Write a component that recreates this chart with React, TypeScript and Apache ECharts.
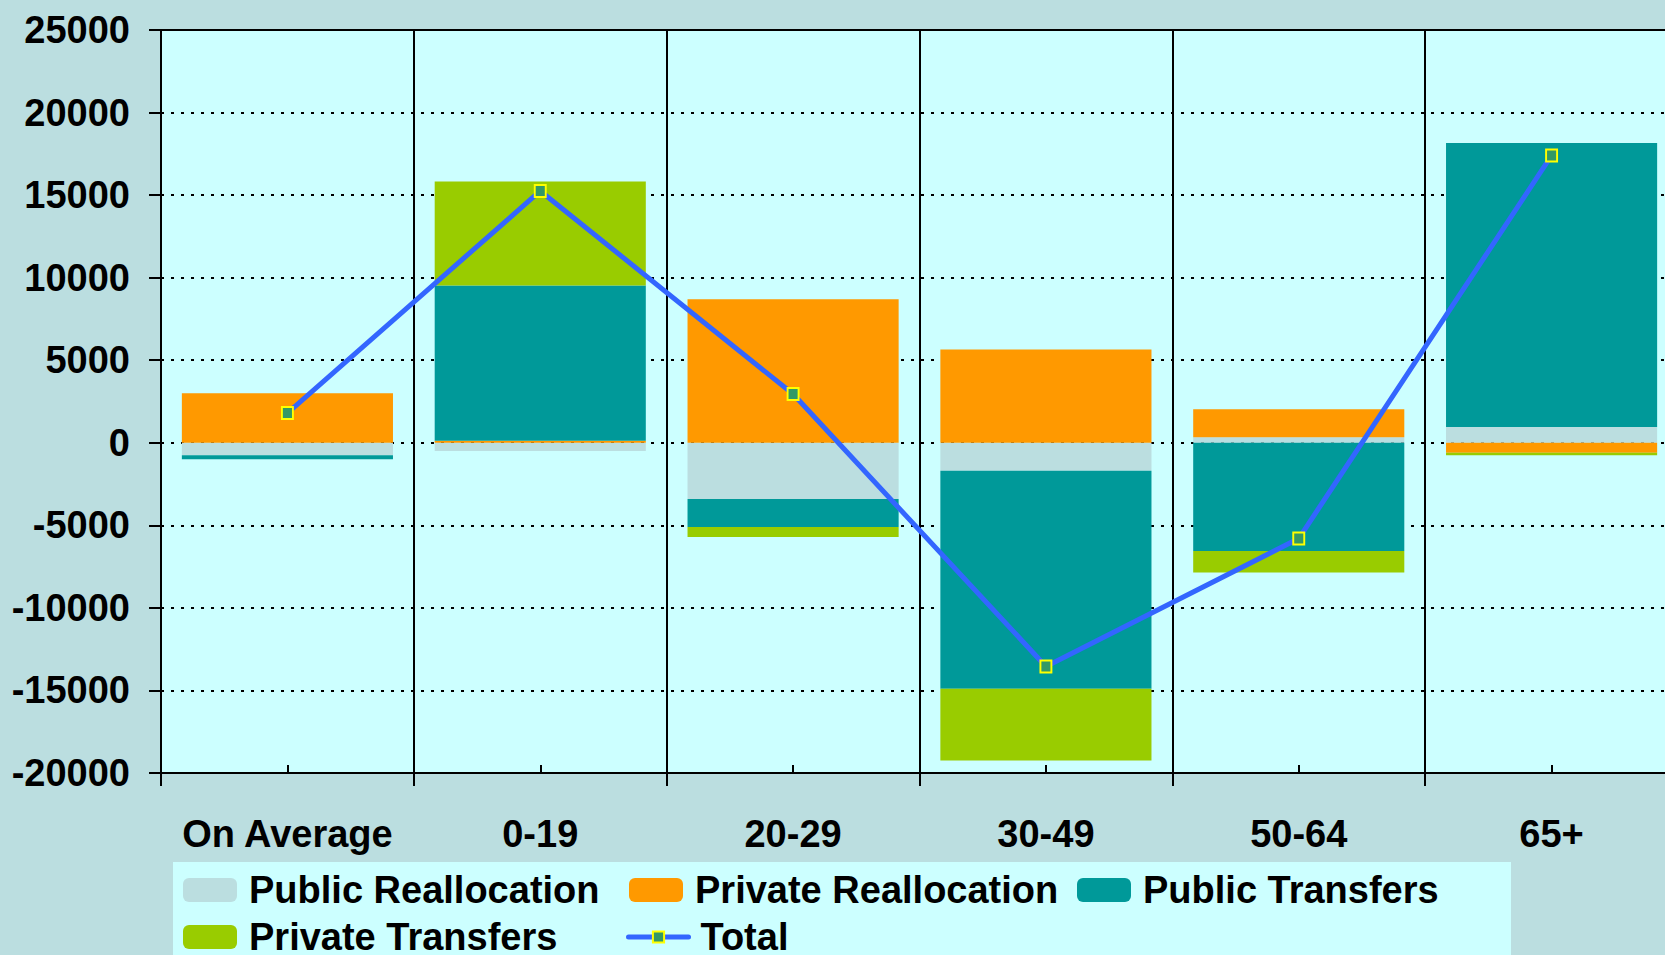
import React, { useEffect, useRef } from "react";
import * as echarts from "echarts";

const categories = ["On Average", "0-19", "20-29", "30-49", "50-64", "65+"];
const publicReallocation = [-750, -500, -3400, -1700, 330, 950];
const privateReallocation = [3000, 120, 8700, 5650, 1700, -600];
const publicTransfers = [-250, 9400, -1700, -13200, -6550, 17200];
const privateTransfers = [0, 6300, -600, -4350, -1300, -150];
const total = [1800, 15250, 2950, -13550, -5800, 17400];

const FONT = "'Liberation Sans', Arial, sans-serif";
const C_BG = "#BBDEE0";
const C_PLOT = "#CCFFFF";
const C_PUBR = "#BBDEE0";
const C_PRIR = "#FF9900";
const C_PUBT = "#009999";
const C_PRIT = "#99CC00";
const C_LINE = "#3366FF";

export default function App() {
  const ref = useRef<HTMLDivElement>(null);
  useEffect(() => {
    if (!ref.current) return;
    const chart = echarts.init(ref.current, undefined, { renderer: "svg" });
    const legendText = {
      fontSize: 38,
      fontWeight: "bold",
      fontFamily: FONT,
      color: "#000",
      padding: [0, 0, 0, 7],
    };
    const mkLegend = (name: string, left: number, top: number, extra: any = {}) => ({
      show: true,
      data: [name],
      left,
      top,
      orient: "horizontal",
      itemWidth: 54,
      itemHeight: 24,
      padding: 0,
      selectedMode: false,
      textStyle: legendText,
      ...extra,
    });
    const barSeries = (name: string, data: number[], color: string) => ({
      name,
      type: "bar",
      stack: "s",
      data,
      barCategoryGap: "16.5%",
      itemStyle: { color },
      emphasis: { disabled: true },
    });
    chart.setOption({
      animation: false,
      backgroundColor: C_BG,
      textStyle: { fontFamily: FONT },
      graphic: [
        {
          type: "rect",
          shape: { x: 173, y: 862, width: 1338, height: 100 },
          style: { fill: C_PLOT },
          z: 0,
          silent: true,
        },
      ],
      legend: [
        mkLegend("Public Reallocation", 183, 871),
        mkLegend("Private Reallocation", 629, 871),
        mkLegend("Public Transfers", 1077, 871),
        mkLegend("Private Transfers", 183, 918),
        mkLegend("Total", 626, 918, {
          itemWidth: 60,
          itemHeight: 14,
          lineStyle: { width: 5, cap: "round", color: C_LINE },
        }),
      ],
      grid: {
        left: 161,
        top: 30,
        right: 0,
        bottom: 182,
        show: true,
        backgroundColor: C_PLOT,
        borderWidth: 0,
        containLabel: false,
      },
      xAxis: [
        {
          type: "category",
          data: categories,
          position: "bottom",
          axisLine: { show: true, onZero: false, lineStyle: { color: "#000", width: 2 } },
          axisTick: { show: true, interval: 0, length: 13, lineStyle: { color: "#000", width: 2 } },
          splitLine: { show: true, interval: 0, lineStyle: { color: "#000", width: 2, type: "solid" } },
          axisLabel: {
            interval: 0,
            fontSize: 38,
            fontWeight: "bold",
            fontFamily: FONT,
            color: "#000",
            margin: 42,
          },
        },
        {
          type: "category",
          data: categories,
          position: "bottom",
          axisLine: { show: false, onZero: false },
          axisTick: {
            show: true,
            interval: 0,
            alignWithLabel: true,
            inside: true,
            length: 8,
            lineStyle: { color: "#000", width: 2 },
          },
          axisLabel: { show: false, interval: 0 },
          splitLine: { show: false },
        },
        {
          type: "category",
          data: categories,
          position: "top",
          axisLine: { show: true, onZero: false, lineStyle: { color: "#000", width: 2 } },
          axisTick: { show: false },
          axisLabel: { show: false },
          splitLine: { show: false },
        },
      ],
      yAxis: {
        type: "value",
        min: -20000,
        max: 25000,
        interval: 5000,
        axisLine: { show: true, onZero: false, lineStyle: { color: "#000", width: 2 } },
        axisTick: { show: true, length: 12, lineStyle: { color: "#000", width: 2 } },
        splitLine: { show: true, lineStyle: { color: "#000", width: 2, type: [3, 7] } },
        axisLabel: {
          fontSize: 38,
          fontWeight: "bold",
          fontFamily: FONT,
          color: "#000",
          margin: 31,
          formatter: (v: number) => String(v),
        },
      },
      series: [
        barSeries("Public Reallocation", publicReallocation, C_PUBR),
        barSeries("Private Reallocation", privateReallocation, C_PRIR),
        barSeries("Public Transfers", publicTransfers, C_PUBT),
        barSeries("Private Transfers", privateTransfers, C_PRIT),
        {
          name: "Total",
          type: "line",
          data: total,
          symbol: "rect",
          symbolSize: [11, 12],
          z: 5,
          lineStyle: { color: C_LINE, width: 5, cap: "round" },
          itemStyle: { color: "#339966", borderColor: "#FFFF00", borderWidth: 2 },
          emphasis: { disabled: true },
        },
      ],
    });
    return () => chart.dispose();
  }, []);
  return (
    <div
      style={{
        position: "fixed",
        left: 0,
        top: 0,
        width: 1665,
        height: 955,
        overflow: "hidden",
        background: C_BG,
      }}
    >
      <div ref={ref} style={{ width: 1678, height: 955 }} />
    </div>
  );
}
